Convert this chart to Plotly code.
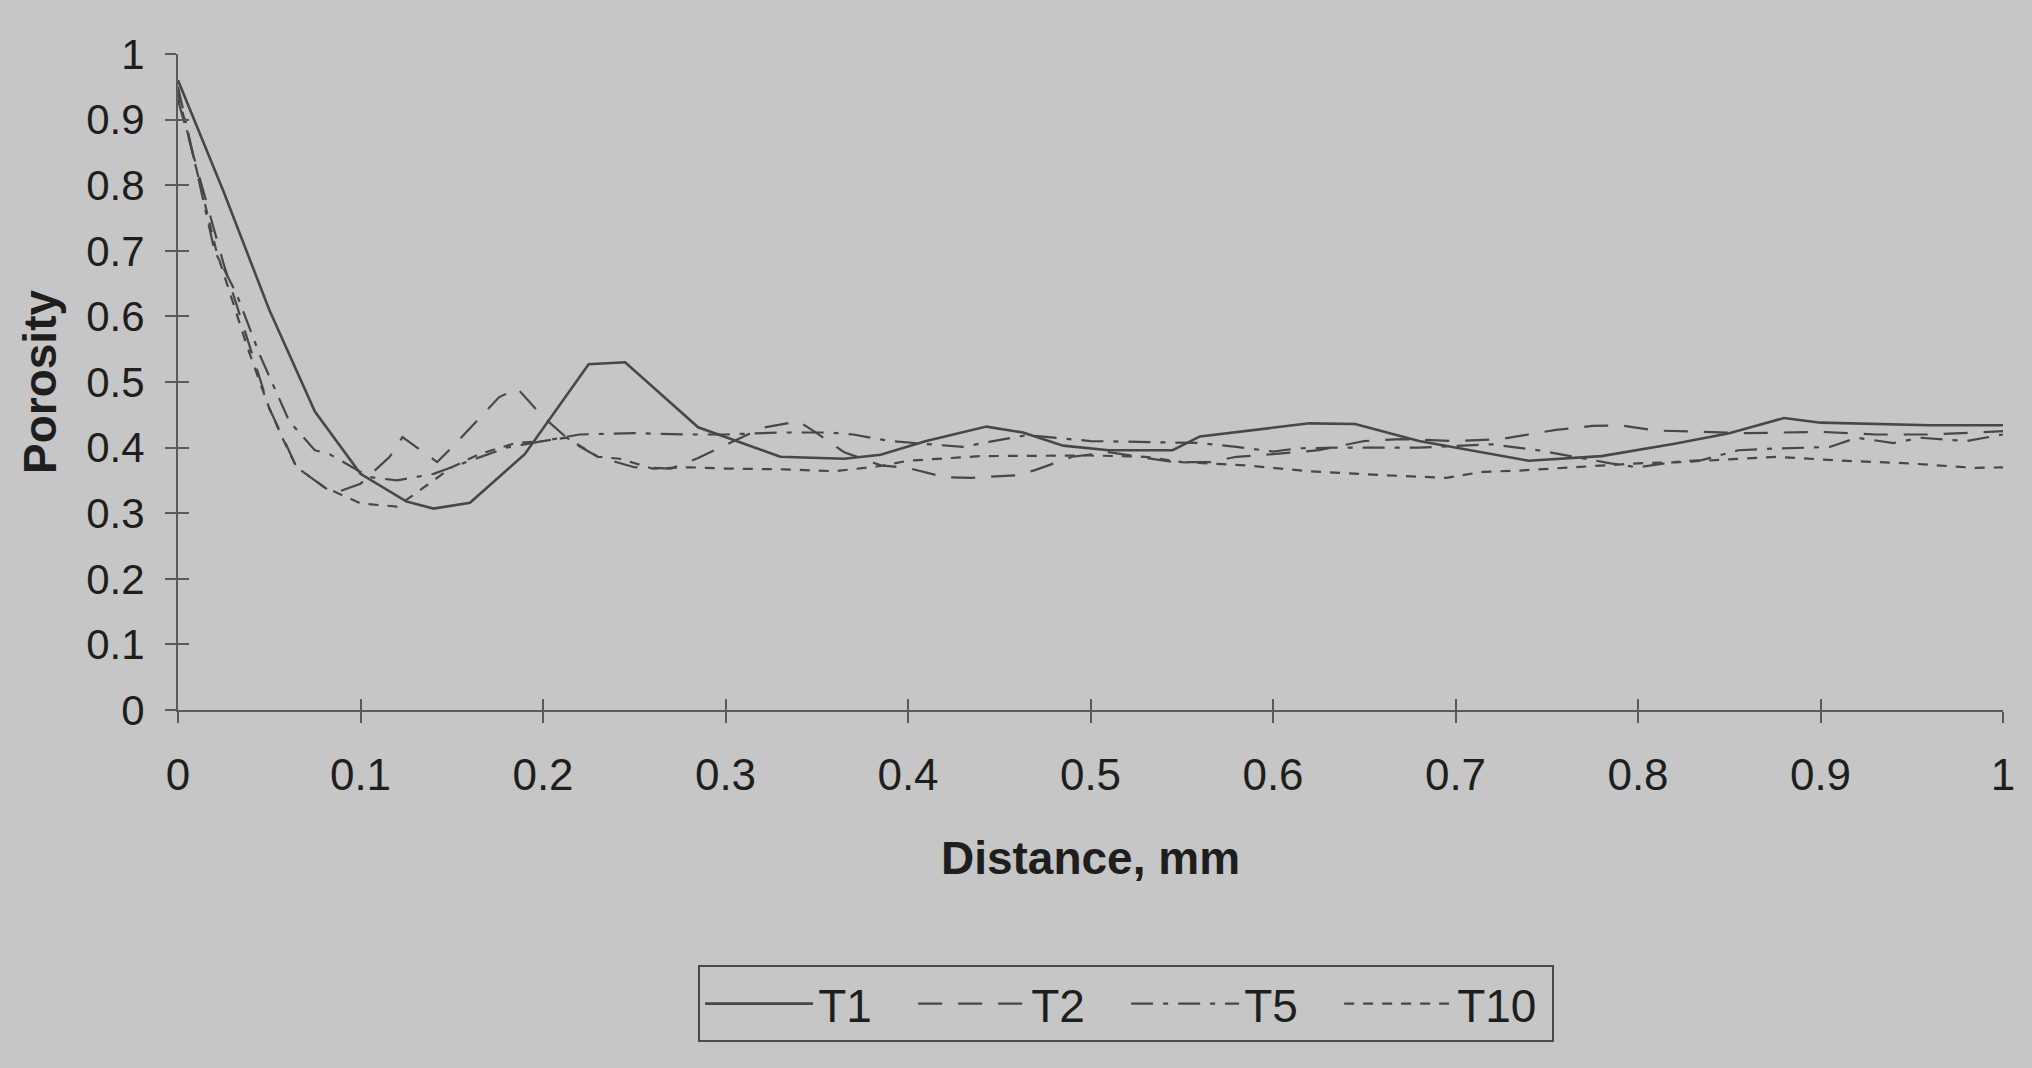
import plotly.graph_objects as go

# ---------------- data ----------------
t1_x = [0, 0.025, 0.05, 0.075, 0.1, 0.125, 0.14, 0.16, 0.19, 0.225, 0.245, 0.285, 0.33,
        0.365, 0.385, 0.41, 0.443, 0.463, 0.485, 0.51, 0.545, 0.56, 0.62, 0.645, 0.68,
        0.74, 0.78, 0.82, 0.85, 0.88, 0.9, 0.96, 1.0]
t1_y = [0.96, 0.79, 0.61, 0.455, 0.36, 0.318, 0.307, 0.316, 0.39, 0.527, 0.53, 0.431, 0.386,
        0.383, 0.389, 0.41, 0.432, 0.423, 0.403, 0.396, 0.396, 0.417, 0.437, 0.436, 0.41,
        0.38, 0.387, 0.406, 0.422, 0.445, 0.438, 0.434, 0.434]

t2_x = [0, 0.025, 0.05, 0.065, 0.085, 0.1, 0.116, 0.123, 0.142, 0.15, 0.176, 0.186, 0.2,
        0.215, 0.23, 0.25, 0.27, 0.285, 0.3, 0.32, 0.34, 0.35, 0.365, 0.385, 0.4, 0.42,
        0.435, 0.46, 0.47, 0.49, 0.51, 0.53, 0.545, 0.566, 0.58, 0.6, 0.625, 0.65, 0.67,
        0.7, 0.725, 0.74, 0.755, 0.775, 0.79, 0.81, 0.83, 0.86, 0.9, 0.93, 0.96, 1.0]
t2_y = [0.93, 0.68, 0.46, 0.37, 0.33, 0.345, 0.386, 0.416, 0.378, 0.4, 0.477, 0.49, 0.447,
        0.41, 0.386, 0.37, 0.368, 0.384, 0.404, 0.43, 0.44, 0.422, 0.393, 0.373, 0.369, 0.355,
        0.354, 0.358, 0.366, 0.386, 0.393, 0.384, 0.378, 0.378, 0.386, 0.39, 0.396, 0.41, 0.413,
        0.41, 0.413, 0.42, 0.427, 0.433, 0.434, 0.426, 0.424, 0.422, 0.424, 0.42, 0.42, 0.425]

t5_x = [0, 0.02, 0.032, 0.045, 0.061, 0.075, 0.083, 0.092, 0.105, 0.12, 0.14, 0.16, 0.18,
        0.2, 0.22, 0.25, 0.28, 0.3, 0.33, 0.357, 0.37, 0.39, 0.415, 0.43, 0.445, 0.465, 0.5,
        0.52, 0.56, 0.58, 0.6, 0.614, 0.64, 0.68, 0.72, 0.745, 0.765, 0.785, 0.8, 0.82, 0.835,
        0.855, 0.87, 0.89, 0.905, 0.92, 0.94, 0.955, 0.98, 1.0]
t5_y = [0.95, 0.70, 0.635, 0.54, 0.44, 0.396, 0.39, 0.376, 0.355, 0.35, 0.36, 0.38, 0.40,
        0.41, 0.42, 0.422, 0.42, 0.42, 0.423, 0.423, 0.42, 0.41, 0.404, 0.401, 0.409, 0.419, 0.41,
        0.409, 0.407, 0.401, 0.394, 0.399, 0.40, 0.40, 0.405, 0.396, 0.386, 0.376, 0.37, 0.378, 0.381,
        0.396, 0.398, 0.40, 0.401, 0.415, 0.407, 0.415, 0.41, 0.42]

t10_x = [0, 0.021, 0.038, 0.05, 0.058, 0.065, 0.08, 0.1, 0.12, 0.135, 0.15, 0.165, 0.185,
         0.2, 0.213, 0.23, 0.242, 0.26, 0.28, 0.3, 0.33, 0.36, 0.385, 0.4, 0.44, 0.5, 0.53,
         0.55, 0.585, 0.62, 0.66, 0.695, 0.715, 0.735, 0.77, 0.8, 0.824, 0.876, 0.912, 0.948,
         0.985, 1.0]
t10_y = [0.94, 0.70, 0.553, 0.46, 0.41, 0.37, 0.34, 0.315, 0.31, 0.34, 0.37, 0.39, 0.407,
         0.41, 0.415, 0.386, 0.383, 0.368, 0.37, 0.368, 0.367, 0.364, 0.372, 0.38, 0.387, 0.388, 0.386,
         0.378, 0.373, 0.364, 0.358, 0.354, 0.363, 0.365, 0.371, 0.376, 0.378, 0.386, 0.38, 0.376,
         0.369, 0.37]

series = [
    ("T1", t1_x, t1_y, "solid", 2.6),
    ("T2", t2_x, t2_y, "24px,16px", 2.2),
    ("T5", t5_x, t5_y, "22px,10px,5px,10px", 2.2),
    ("T10", t10_x, t10_y, "10px,9px", 2.2),
]

x_ticks = [0, 0.1, 0.2, 0.3, 0.4, 0.5, 0.6, 0.7, 0.8, 0.9, 1]
y_ticks = [0, 0.1, 0.2, 0.3, 0.4, 0.5, 0.6, 0.7, 0.8, 0.9, 1]
x_labels = ["0", "0.1", "0.2", "0.3", "0.4", "0.5", "0.6", "0.7", "0.8", "0.9", "1"]
y_labels = ["0", "0.1", "0.2", "0.3", "0.4", "0.5", "0.6", "0.7", "0.8", "0.9", "1"]

# ---------------- styling ----------------
BG = "#c6c6c6"
INK = "#1e1e1e"
LINE = "#474747"
AXIS = "#5a5a5a"
FONT = "Liberation Sans, Arial, sans-serif"

fig = go.Figure()
for name, xs, ys, dash, w in series:
    fig.add_trace(go.Scatter(x=xs, y=ys, mode="lines", name=name,
                             line=dict(color=LINE, width=w, dash=dash)))

# invisible helper trace so the overlay axes (inner half of cross ticks) are drawn
fig.add_trace(go.Scatter(x=[None], y=[None], xaxis="x2", yaxis="y2",
                         showlegend=False, hoverinfo="skip", mode="lines"))

W, H = 2032, 1068
L, R, T, B = 178, 29, 54, 358

fig.update_layout(
    width=W, height=H,
    margin=dict(l=L, r=R, t=T, b=B, autoexpand=False),
    paper_bgcolor=BG, plot_bgcolor=BG,
    font=dict(family=FONT, color=INK, size=40),
    showlegend=True,
    legend=dict(
        orientation="h", x=0.285, y=-0.389, xanchor="left", yanchor="top",
        bgcolor=BG, bordercolor="#4a4a4a", borderwidth=2,
        font=dict(family=FONT, size=46, color=INK),
        itemwidth=108, entrywidth=90, entrywidthmode="pixels",
        tracegroupgap=0, itemclick=False,
    ),
    xaxis=dict(
        range=[0, 1], tickvals=x_ticks, ticktext=x_labels,
        showgrid=False, zeroline=False, showline=True, linecolor=AXIS, linewidth=2,
        ticks="outside", ticklen=11, tickwidth=2, tickcolor=AXIS,
        tickfont=dict(family=FONT, size=44, color=INK), ticklabelstandoff=14,
        title=dict(text="<b>Distance, mm</b>", font=dict(family=FONT, size=46, color=INK),
                   standoff=44),
        automargin=False,
    ),
    yaxis=dict(
        range=[0, 1], tickvals=y_ticks, ticktext=y_labels,
        showgrid=False, zeroline=False, showline=True, linecolor=AXIS, linewidth=2,
        ticks="outside", ticklen=11, tickwidth=2, tickcolor=AXIS,
        tickfont=dict(family=FONT, size=42, color=INK), ticklabelstandoff=12,
        title=dict(text="<b>Porosity</b>", font=dict(family=FONT, size=46, color=INK),
                   standoff=15),
        automargin=False,
    ),
    xaxis2=dict(
        range=[0, 1], tickvals=x_ticks, overlaying="x", anchor="y2", side="bottom",
        showgrid=False, zeroline=False, showline=False, showticklabels=False,
        ticks="inside", ticklen=11, tickwidth=2, tickcolor=AXIS,
    ),
    yaxis2=dict(
        range=[0, 1], tickvals=y_ticks, overlaying="y", anchor="x2", side="left",
        showgrid=False, zeroline=False, showline=False, showticklabels=False,
        ticks="inside", ticklen=11, tickwidth=2, tickcolor=AXIS,
    ),
)

fig.write_html(
    "out.html",
    config={"displayModeBar": False},
    post_script="document.body.style.margin='0';document.body.style.background='%s';"
                "document.documentElement.style.overflow='hidden';" % BG,
)
